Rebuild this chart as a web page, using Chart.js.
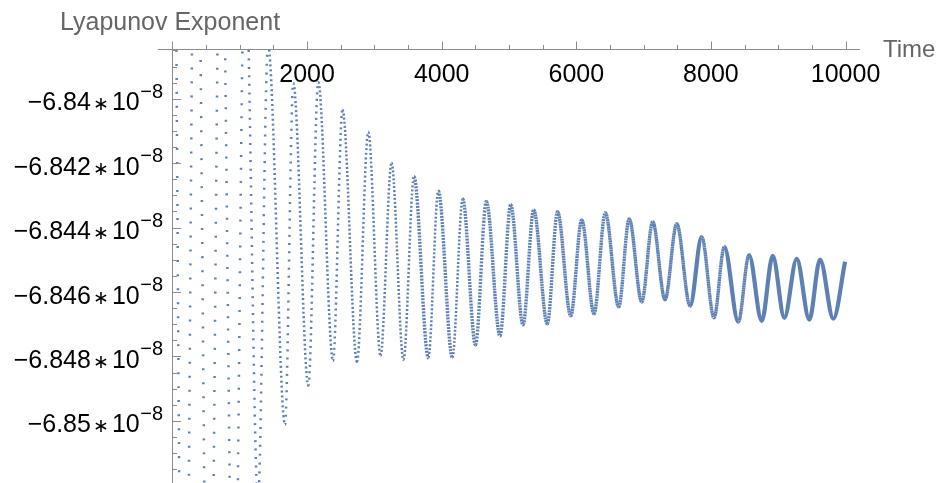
<!DOCTYPE html>
<html>
<head>
<meta charset="utf-8">
<script src="https://cdn.jsdelivr.net/npm/chart.js@4.4.1/dist/chart.umd.min.js"></script>
<style>
  html, body { margin: 0; padding: 0; background: #fff; }
  canvas { display: block; }
</style>
</head>
<body>
<canvas id="chart" width="941" height="483"></canvas>
<script>
// turning points of the oscillation (peak, trough, peak ...)
// the first ones lie outside the visible window, so they are rough estimates
const times = [
  22, 171, 349, 542, 721, 914, 1077, 1270, 1419, 1672,
  1795, 2018, 2166, 2385, 2526, 2741, 2909, 3091, 3254, 3432,
  3588, 3801, 3950, 4158, 4312, 4502, 4663, 4866, 5025, 5208,
  5367, 5569, 5721, 5917, 6080, 6263, 6431, 6630, 6786, 6972,
  7135, 7318, 7492, 7690, 7863, 8046, 8199, 8407, 8566, 8755,
  8918, 9091, 9275, 9462, 9621, 9819, 9993
];
// Lyapunov exponent at those times, in units of 10^-8
const values = [
  -6.82762, -6.86487, -6.82917, -6.86177, -6.83227, -6.85866, -6.83507, -6.85245, -6.83833, -6.85012,
  -6.83951, -6.84891, -6.83948, -6.84814, -6.84034, -6.84817, -6.84103, -6.84798, -6.84199, -6.84811,
  -6.84242, -6.84804, -6.84286, -6.84804, -6.84311, -6.84764, -6.84319, -6.84736, -6.84329, -6.84702,
  -6.84345, -6.84699, -6.84351, -6.84674, -6.84376, -6.84668, -6.84354, -6.84646, -6.84373, -6.84631,
  -6.84382, -6.84624, -6.84388, -6.84643, -6.84429, -6.84680, -6.84460, -6.84693, -6.84485, -6.84690,
  -6.84488, -6.84680, -6.84497, -6.84686, -6.84499, -6.84683, -6.84506
];

const xRange = [0, 10215];
const yRange = [-6.85193, -6.83847];
const xTicks = [2000, 4000, 6000, 8000, 10000];
const xMinorStep = 500;
const yTicks = [-6.84, -6.842, -6.844, -6.846, -6.848, -6.85];
const yTickLabels = ['\u22126.84', '\u22126.842', '\u22126.844', '\u22126.846', '\u22126.848', '\u22126.85'];
const yMinorStep = 0.0005;
const yExponent = '\u22128';
const xTitle = 'Time';
const yTitle = 'Lyapunov Exponent';

const pointColor = '#5e81b5';
const axisColor = '#8c8c8c';
const font = '"Liberation Sans", Arial, sans-serif';

// steeper pieces of the curve were sampled more sparsely, so they look dotted
function slopeOf(c) {
  const dx = Math.abs(c.p1.x - c.p0.x) || 1;
  return Math.abs(c.p1.y - c.p0.y) / dx;
}

const axesPlugin = {
  id: 'mmaAxes',
  afterDatasetsDraw(chart) {
    const ctx = chart.ctx;
    const xs = chart.scales.x, ys = chart.scales.y;
    const ax = xs.getPixelForValue(0);
    const ay = chart.chartArea.top;
    ctx.save();
    ctx.strokeStyle = axisColor;
    ctx.lineWidth = 1;
    ctx.beginPath();
    // x axis along the top
    ctx.moveTo(158, ay);
    ctx.lineTo(chart.chartArea.right, ay);
    // y axis
    ctx.moveTo(ax, ay - 8);
    ctx.lineTo(ax, chart.height);
    for (let t = xMinorStep; t <= xRange[1]; t += xMinorStep) {
      const px = Math.round(xs.getPixelForValue(t)) + 0.5;
      const len = xTicks.includes(t) ? 8 : 4.5;
      ctx.moveTo(px, ay);
      ctx.lineTo(px, ay - len);
    }
    const k0 = Math.ceil(yRange[0] / yMinorStep), k1 = Math.floor(yRange[1] / yMinorStep);
    for (let k = k0; k <= k1; k++) {
      const py = Math.round(ys.getPixelForValue(k * yMinorStep)) + 0.5;
      const len = (k % 4 === 0) ? 8.5 : 4.5;
      ctx.moveTo(ax, py);
      ctx.lineTo(ax + len, py);
    }
    ctx.stroke();

    // tick labels
    ctx.fillStyle = '#000';
    ctx.font = '25px ' + font;
    ctx.textAlign = 'center';
    ctx.textBaseline = 'alphabetic';
    xTicks.forEach(t => ctx.fillText(String(t), xs.getPixelForValue(t), ay + 32));

    yTicks.forEach((v, i) => {
      const py = ys.getPixelForValue(v);
      const base = py + 11.5;
      ctx.font = '20px ' + font;
      const supW = ctx.measureText(yExponent).width;
      let x = 163 - supW;
      ctx.textAlign = 'left';
      ctx.fillText(yExponent, x, py - 1);
      ctx.textAlign = 'right';
      ctx.font = '25px ' + font;
      x -= 0.5;
      ctx.fillText('10', x, base);
      x -= ctx.measureText('10').width + 3;
      ctx.font = '19px ' + font;
      ctx.fillText('\u2217', x, base);
      x -= ctx.measureText('\u2217').width + 2;
      ctx.font = '25px ' + font;
      ctx.fillText(yTickLabels[i], x, base);
    });

    // axis titles
    ctx.fillStyle = '#666';
    ctx.textAlign = 'left';
    ctx.font = '25px ' + font;
    ctx.fillText(yTitle, 60, 29.5);
    ctx.font = '24px ' + font;
    ctx.fillText(xTitle, 883, 57);
    ctx.restore();
  }
};

new Chart(document.getElementById('chart'), {
  type: 'line',
  data: {
    datasets: [{
      data: times.map((t, i) => ({ x: t, y: values[i] })),
      borderColor: pointColor,
      borderWidth: 3,
      borderCapStyle: 'butt',
      pointRadius: 0,
      cubicInterpolationMode: 'monotone',
      segment: {
        borderDash: c => {
          const s = slopeOf(c);
          return s < 6 ? [] : [2, Math.min(12, (s - 5) * 0.17)];
        },
        borderWidth: c => {
          const s = slopeOf(c);
          return s < 6 ? 4.2 : (s < 14 ? 3.4 : 2.5);
        }
      }
    }]
  },
  options: {
    responsive: false,
    animation: false,
    devicePixelRatio: 1,
    layout: { padding: { left: 172.5, top: 49.5, right: 81, bottom: 0 } },
    scales: {
      x: { type: 'linear', min: xRange[0], max: xRange[1], display: false },
      y: { type: 'linear', min: yRange[0], max: yRange[1], display: false }
    },
    plugins: { legend: { display: false }, tooltip: { enabled: false } }
  },
  plugins: [axesPlugin]
});
</script>
</body>
</html>
